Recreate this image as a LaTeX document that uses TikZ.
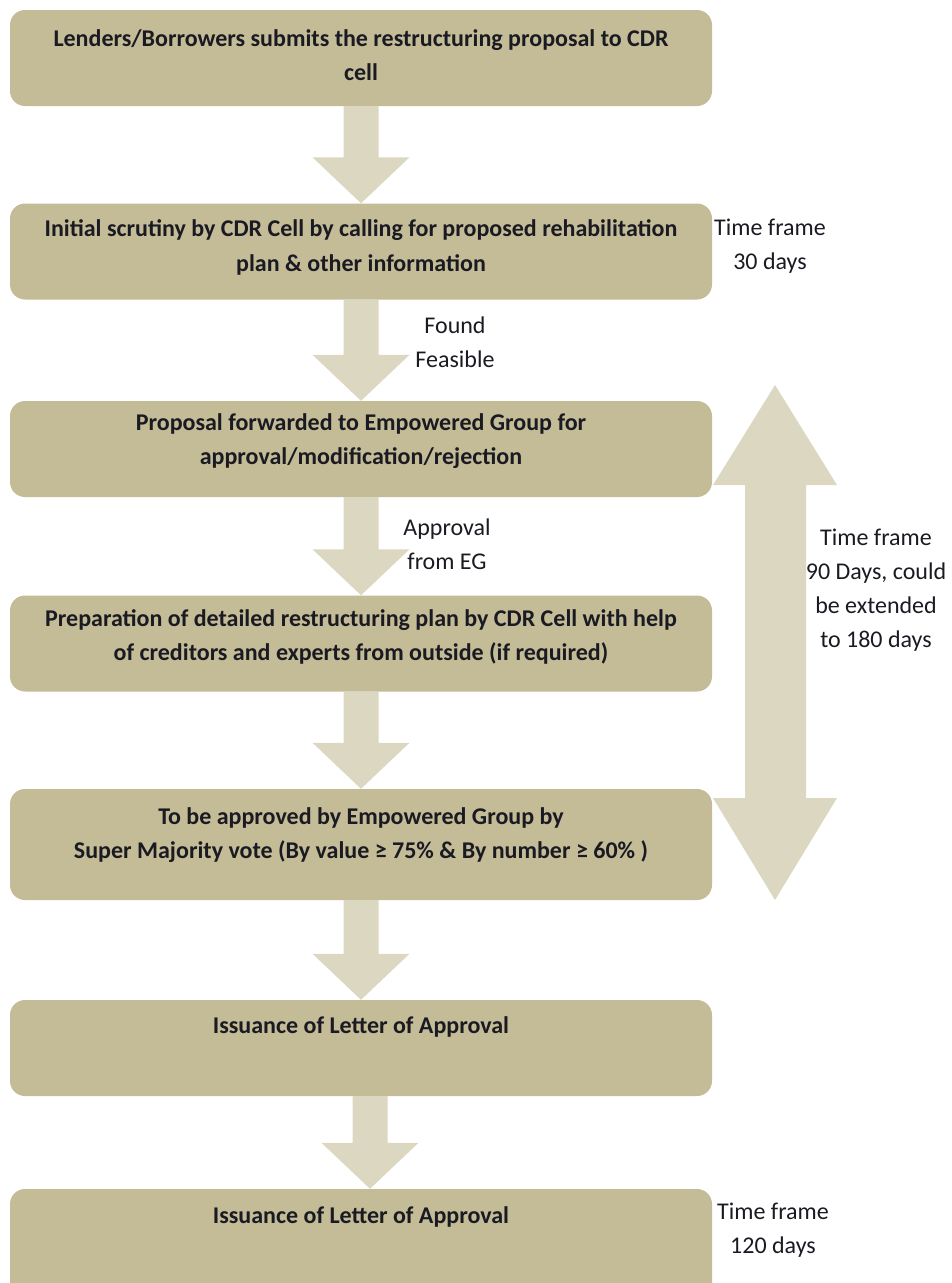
\documentclass[tikz,border=0pt]{standalone}
\usepackage{fontspec}
\setmainfont{Carlito}
\usetikzlibrary{calc}
\definecolor{boxcol}{HTML}{C4BB97}
\definecolor{arrcol}{HTML}{DCD7C1}
\definecolor{txtcol}{HTML}{1A1A22}
\tikzset{
  box/.style={fill=boxcol, rounded corners=15pt, minimum width=702pt, minimum height=96pt, inner sep=0pt, draw=none},
  boxtext/.style={font=\fontsize{24}{34.5}\selectfont\bfseries, align=center, inner sep=0pt, text=txtcol},
  sidetext/.style={font=\fontsize{24}{34}\selectfont, align=center, inner sep=0pt, text=txtcol},
}
\newcommand\flowarrow[3][0]{%
  \fill[arrcol] ($(#2.south)+(#1-17.5,0)$) -- ($(#3.north)+(#1-17.5,-46)$) -- ($(#3.north)+(#1-48.5,-46)$) -- ($(#3.north)+(#1,0)$) -- ($(#3.north)+(#1+48.5,-46)$) -- ($(#3.north)+(#1+17.5,-46)$) -- ($(#2.south)+(#1+17.5,0)$) -- cycle;}
\begin{document}
\begin{tikzpicture}[x=1pt,y=-1pt]
\useasboundingbox (0,0) rectangle (952,1283);
% boxes
\node[box] (b1) at (361,58) {};
\node[box] (b2) at (361,251.5) {};
\node[box] (b3) at (361,449) {};
\node[box] (b4) at (361,643.5) {};
\node[box, minimum height=111pt] (b5) at (361,844.5) {};
\node[box] (b6) at (361,1048) {};
\node[box, minimum height=130pt] (b7) at (361,1254) {};
% arrows
\flowarrow{b1}{b2}
\flowarrow{b2}{b3}
\flowarrow{b3}{b4}
\flowarrow{b4}{b5}
\flowarrow{b5}{b6}
\flowarrow[9]{b6}{b7}
% double arrow
\fill[arrcol] (775,385) -- (837,485) -- (806,485) -- (806,798) -- (837,798) -- (775,900) -- (713,798) -- (745,798) -- (745,485) -- (713,485) -- cycle;
% texts
\node[boxtext] (t1) at (361,55) {Lenders/Borrowers submits the restructuring proposal to CDR\\cell};
\node[boxtext] (t2) at (361,247.5) {Initial scrutiny by CDR Cell by calling for proposed rehabilitation\\plan \& other information};
\node[boxtext] (t3) at (361,441) {Proposal forwarded to Empowered Group for\\approval/modification/rejection};
\node[boxtext] (t4) at (361,637) {Preparation of detailed restructuring plan by CDR Cell with help\\of creditors and experts from outside (if required)};
\node[boxtext] (t5) at (361,835) {To be approved by Empowered Group by\\Super Majority vote (By value ≥ 75\% \& By number ≥ 60\% )};
\node[boxtext] (t6) at (361,1027) {Issuance of Letter of Approval};
\node[boxtext] (t7) at (361,1217) {Issuance of Letter of Approval};
% side labels
\node[sidetext] (s1) at (770,246) {Time frame\\30 days};
\node[sidetext] (s2) at (455,342.5) {Found\\Feasible};
\node[sidetext] (s3) at (447,544) {Approval\\from EG};
\node[sidetext] (s4) at (876,590) {Time frame\\90 Days, could\\be extended\\to 180 days};
\node[sidetext] (s5) at (773,1230) {Time frame\\120 days};
\end{tikzpicture}
\end{document}
